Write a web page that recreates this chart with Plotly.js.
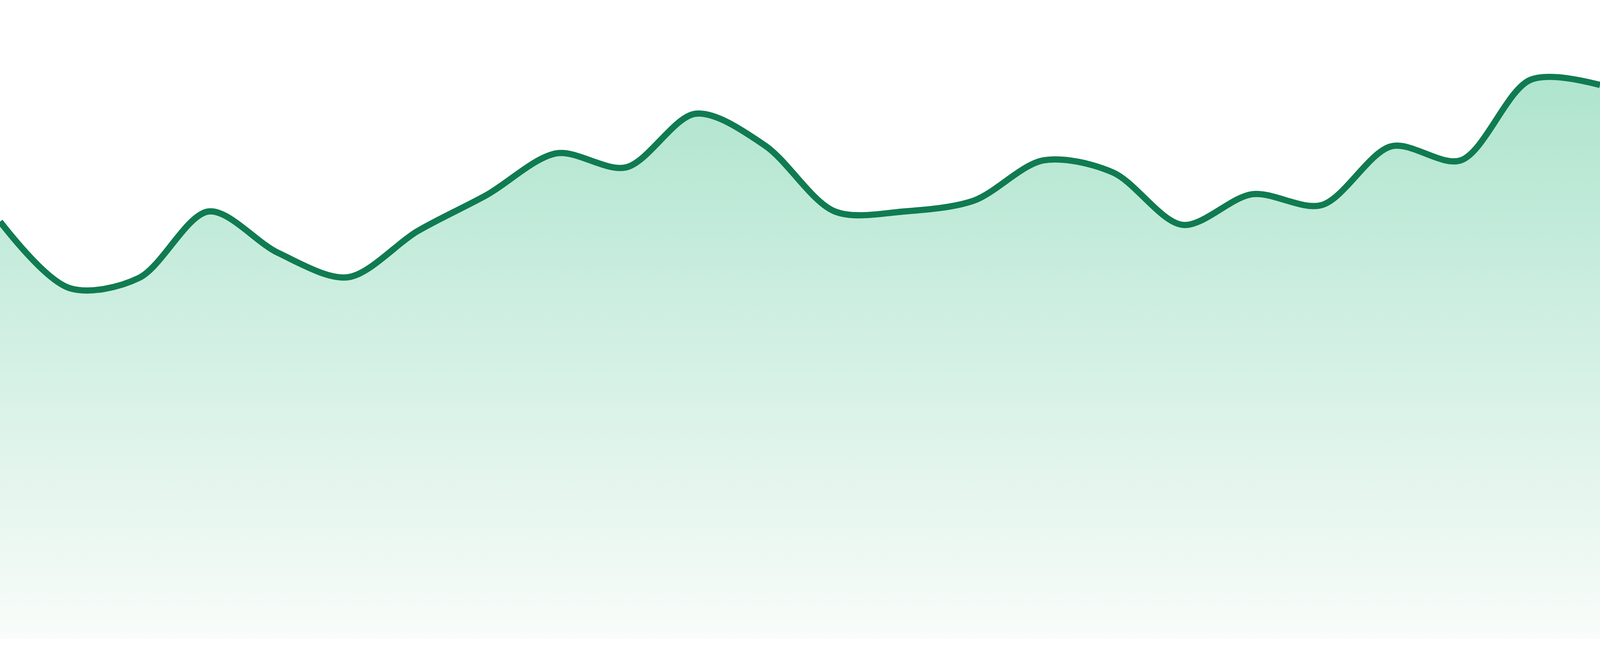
<!DOCTYPE html>
<html>
<head>
<meta charset="utf-8">
<script src="https://cdn.plot.ly/plotly-3.0.1.min.js"></script>
<style>
  html, body { margin: 0; padding: 0; background: #ffffff; overflow: hidden; }
  #chart { width: 100vw; height: 100vh; }
</style>
</head>
<body>
<div id="chart"></div>
<script>
// one point per step, 24 steps across the sparkline
var steps = [0, 1, 2, 3, 4, 5, 6, 7, 8, 9, 10, 11, 12, 13, 14, 15, 16, 17, 18, 19, 20, 21, 22, 23];
var values = [65.3, 54.9, 56.5, 66.9, 60.4, 56.6, 63.8, 69.5, 76.0, 73.8, 82.2, 77.2,
              66.9, 66.9, 68.6, 74.9, 73.0, 64.8, 69.6, 67.9, 77.1, 74.9, 87.5, 86.7];

var lineColor = "#107b51";

var areaTrace =
{
    x: steps,
    y: values,
    type: "scatter",
    mode: "lines",
    fill: "tozeroy",
    fillgradient:
    {
        type: "vertical",
        start: 0,
        stop: 100,
        colorscale: [[0, "rgb(249,252,250)"], [1, "rgb(164,225,200)"]]
    },
    line: { color: lineColor, width: 16, shape: "spline", smoothing: 0.9 },
    hoverinfo: "none",
    showlegend: false
};

// the window is narrower than asked for, so fit the plot to it
var layout =
{
    width: window.innerWidth,
    height: window.innerHeight,
    margin: { l: 0, r: 0, t: 0, b: 44, pad: 0 },
    paper_bgcolor: "#ffffff",
    plot_bgcolor: "#ffffff",
    showlegend: false,
    xaxis: { range: [0, 23], visible: false, fixedrange: true },
    yaxis: { range: [0, 100], visible: false, fixedrange: true }
};

Plotly.newPlot("chart", [areaTrace], layout, { staticPlot: true, displayModeBar: false });
</script>
</body>
</html>
